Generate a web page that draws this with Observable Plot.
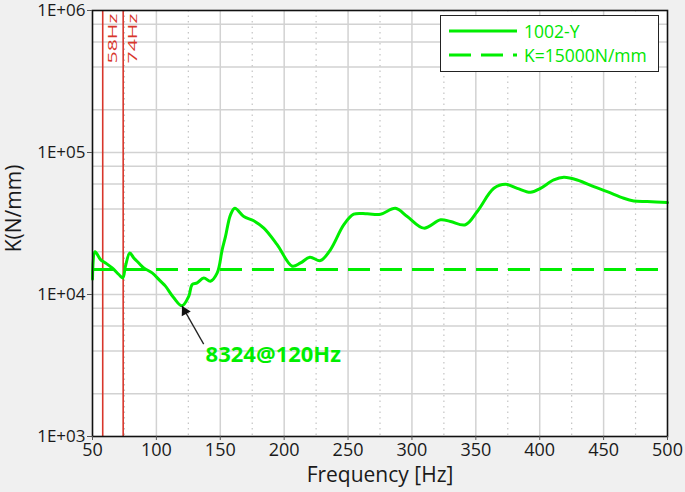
<!DOCTYPE html>
<html>
<head>
<meta charset="utf-8">
<script src="https://cdn.jsdelivr.net/npm/d3@7"></script>
<script src="https://cdn.jsdelivr.net/npm/@observablehq/plot@0.6"></script>
<style>
  html, body { margin: 0; padding: 0; background: #f0f0f0; }
  #wrap { position: relative; width: 685px; height: 492px; background: #f0f0f0; font-family: 'Open Sans', sans-serif; }
  #legend { position: absolute; left: 440px; top: 15px; width: 219px; height: 57px; background: #fff; border: 1.5px solid #222; box-sizing: border-box; }
  .row { position: absolute; left: 8px; display: flex; align-items: center; height: 22px; }
  .row span { color: #00e600; font-size: 17.5px; margin-left: 7px; }
</style>
</head>
<body>
<div id="wrap"></div>
<script>
// Data
const freq = [50, 52, 56.3, 60.2, 65.4, 70.6, 73.7, 75.8, 79.2, 82.3, 86.2, 90.1, 96.7, 103.2, 107.1, 113.6, 120, 125.4, 128, 131.9, 137.1, 142.3, 147.6, 151.5, 154.1, 158, 161.4, 168.4, 176.2, 184.1, 194.5, 206.3, 212.8, 220.1, 228.4, 236.3, 246.7, 254.5, 265, 275.4, 287.1, 296.3, 309.3, 322.4, 330.2, 341.9, 351.1, 364.1, 373.2, 382.4, 392.8, 400.6, 411, 418.9, 429.3, 442.3, 452.8, 465.8, 473.6, 484.1, 500];
const stiffness = [12800, 20000, 17620, 16680, 15380, 13830, 13090, 15820, 19600, 18080, 16680, 15380, 14190, 12410, 11450, 9480, 8324, 9750, 11770, 12080, 13090, 12410, 14190, 20720, 25650, 36420, 40510, 35430, 33040, 29340, 22450, 15820, 16680, 18290, 17340, 20720, 31000, 36770, 37000, 36770, 40510, 35430, 29340, 33600, 32670, 31000, 38410, 55940, 59680, 55940, 52450, 55940, 64070, 66810, 64070, 57500, 53040, 47610, 45610, 45120, 44410];
const refK = [15000];
const seriesNames = ["1002-Y", "K=15000N/mm"];
const resonances = [58, 74];
const resonanceLabels = ["58Hz", "74Hz"];
const xTicks = [50, 100, 150, 200, 250, 300, 350, 400, 450, 500];
const yTicks = [1e3, 1e4, 1e5, 1e6];
const yTickLabels = ["1E+03", "1E+04", "1E+05", "1E+06"];
const yGrid = [2e3, 4e3, 6e3, 8e3, 1e4, 2e4, 4e4, 6e4, 8e4, 1e5, 2e5, 4e5, 6e5, 8e5];
const xMajorGrid = [100, 150, 200, 250, 300, 350, 400, 450];
const xMinorGrid = [75, 125, 175, 225, 275, 325, 375, 425, 475];
const annTip = {f: 120, k: 8324};
const annTail = {f: 137, k: 4470};
const annText = {f: 138.5, k: 3760, label: "8324@120Hz"};
const xLabel = "Frequency [Hz]";
const yLabel = "K(N/mm)";

const GREEN = "#00ee00";
const RED = "#d8362b";
const GRID = "#d2d2d2";

const curve = freq.map((f, i) => ({f, k: stiffness[i]}));
const resData = resonances.map((f, i) => ({f, label: resonanceLabels[i]}));

const chart = Plot.plot({
  width: 685,
  height: 492,
  marginLeft: 92,
  marginRight: 18,
  marginTop: 10,
  marginBottom: 56,
  style: {background: "transparent", fontFamily: "'Open Sans', sans-serif", color: "#1a1a1a"},
  x: {domain: [50, 500]},
  y: {type: "log", domain: [1e3, 1e6]},
  marks: [
    Plot.frame({fill: "white", stroke: null}),
    Plot.ruleY(yGrid, {stroke: GRID, strokeWidth: 1.5}),
    Plot.ruleX(xMajorGrid, {stroke: GRID, strokeWidth: 1.5}),
    Plot.ruleX(xMinorGrid, {stroke: "#c4c4c4", strokeWidth: 1.2, strokeDasharray: "1.5,4"}),
    Plot.ruleX(resData, {x: "f", stroke: RED, strokeWidth: 1.6}),
    Plot.text(resData, {x: "f", text: "label", frameAnchor: "top", rotate: -90, textAnchor: "end", lineAnchor: "middle", dx: 10, dy: 3, fill: RED, fontSize: 12.5}),
    Plot.ruleY(refK, {stroke: GREEN, strokeWidth: 3, strokeDasharray: "22,10"}),
    Plot.line(curve, {x: "f", y: "k", stroke: GREEN, strokeWidth: 3, curve: "catmull-rom"}),
    Plot.link([{a: annTail, b: annTip}], {x1: d => d.a.f, y1: d => d.a.k, x2: d => d.b.f, y2: d => d.b.k, stroke: "#222", strokeWidth: 1.3}),
    Plot.dot([annTip], {x: "f", y: "k", symbol: "triangle", r: 3.8, fill: "#111", stroke: null, rotate: -28, dx: 2.9, dy: 5.5}),
    Plot.text([annText], {x: "f", y: "k", text: "label", textAnchor: "start", fill: GREEN, fontSize: 22, fontWeight: "bold"}),
    Plot.frame({stroke: "#111", strokeWidth: 1.6}),
    Plot.axisX(xTicks, {tickSize: 4, tickPadding: 3, fontSize: 18, label: null, stroke: "#555"}),
    Plot.axisY(yTicks, {tickSize: 5, tickPadding: 2, fontSize: 17, label: null, stroke: "#555", tickFormat: d => yTickLabels[yTicks.indexOf(d)]}),
    Plot.text([xLabel], {text: d => d, frameAnchor: "bottom", textAnchor: "middle", lineAnchor: "middle", dy: 38.5, fontSize: 21, fill: "#1a1a1a"}),
    Plot.text([yLabel], {text: d => d, frameAnchor: "left", rotate: -90, textAnchor: "middle", lineAnchor: "middle", dx: -78, dy: -15, fontSize: 21, fill: "#1a1a1a"})
  ]
});

// stretch the narrow rotated resonance labels like the reference
d3.select(chart).selectAll("text")
  .filter(function() { return resonanceLabels.includes(this.textContent); })
  .attr("textLength", 50)
  .attr("lengthAdjust", "spacingAndGlyphs");

const wrap = document.getElementById("wrap");
wrap.appendChild(chart);
chart.style.position = "absolute";
chart.style.left = "0";
chart.style.top = "0";

// Legend
const legend = document.createElement("div");
legend.id = "legend";
const dashes = ["", "22,10"];
seriesNames.forEach((name, i) => {
  const row = document.createElement("div");
  row.className = "row";
  row.style.top = (4 + i * 24) + "px";
  row.innerHTML = `<svg width="68" height="6"><line x1="0" y1="3" x2="68" y2="3" stroke="${GREEN}" stroke-width="3" ${dashes[i] ? `stroke-dasharray="${dashes[i]}"` : ""}/></svg><span>${name}</span>`;
  legend.appendChild(row);
});
wrap.appendChild(legend);
</script>
</body>
</html>
